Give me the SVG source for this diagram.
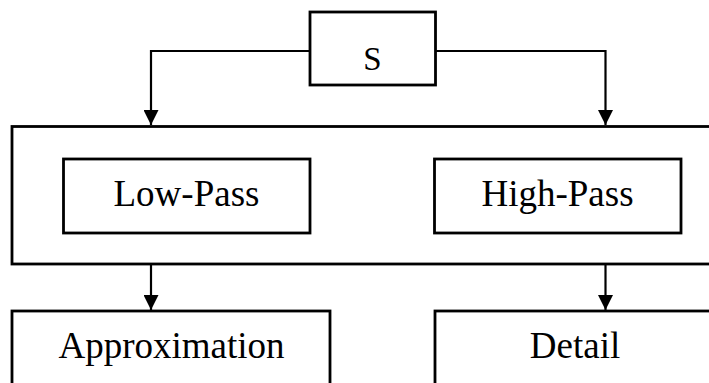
<svg xmlns="http://www.w3.org/2000/svg" width="709" height="383" viewBox="0 0 709 383">
<style>
.box{fill:#fff;stroke:#000;stroke-width:2.8}
.lbl{font-family:"Liberation Serif","Times New Roman",serif;font-size:37px;fill:#000;text-anchor:middle}
.con{fill:none;stroke:#000;stroke-width:2.2}
</style>
<defs>
<marker id="arr" markerWidth="15" markerHeight="15" refX="15" refY="7.5" orient="auto" markerUnits="userSpaceOnUse">
<path d="M0,0 L15,7.5 L0,15 Z" fill="#000"/>
</marker>
</defs>
<rect width="709" height="383" fill="#fff"/>
<g id="filterbank">
<rect class="box" x="12" y="126.5" width="710" height="137.5"/>
</g>
<g id="S">
<rect class="box" x="310" y="12" width="125.5" height="73"/>
<text class="lbl" x="372.5" y="69.5" style="font-size:33px">S</text>
</g>
<g id="lowpass">
<rect class="box" x="63.5" y="159" width="246.5" height="74"/>
<text class="lbl" x="186.5" y="205.5">Low-Pass</text>
</g>
<g id="highpass">
<rect class="box" x="434.5" y="159" width="246.5" height="74"/>
<text class="lbl" x="557.5" y="205.5">High-Pass</text>
</g>
<g id="approximation">
<rect class="box" x="12" y="311" width="318" height="90"/>
<text class="lbl" x="171.5" y="358">Approximation</text>
</g>
<g id="detail">
<rect class="box" x="435" y="311" width="290" height="90"/>
<text class="lbl" x="575" y="358">Detail</text>
</g>
<g id="connectors">
<path class="con" d="M310,51 H151 V125" marker-end="url(#arr)"/>
<path class="con" d="M435.5,51 H605.5 V125" marker-end="url(#arr)"/>
<path class="con" d="M151,264 V310" marker-end="url(#arr)"/>
<path class="con" d="M605.5,264 V310" marker-end="url(#arr)"/>
</g>
</svg>
